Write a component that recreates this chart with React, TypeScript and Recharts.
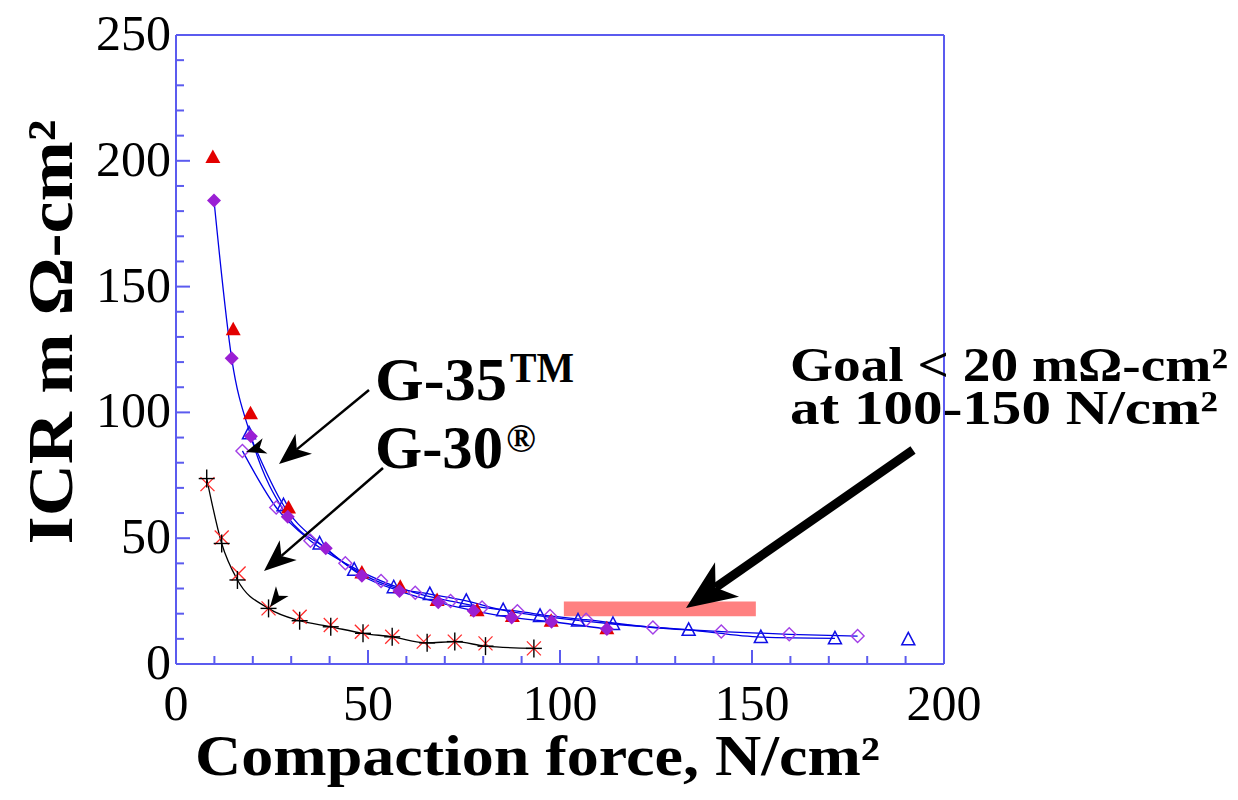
import React from 'react';
import {
    LineChart,
    Line,
    XAxis,
    YAxis,
    ReferenceArea,
    ReferenceLine,
} from 'recharts';

// G-35 (filled diamonds, blue fit line)
const filledDiamondX = [9.9, 14.5, 19.5, 29.1, 39.0, 48.4, 58.2, 68.3, 77.5, 87.4, 97.8, 112.2];
const filledDiamondY = [184.2, 121.5, 90.5, 58.5, 46.0, 35.1, 29.0, 24.5, 21.2, 18.5, 16.8, 13.9];

// G-35 repeat (red filled triangles, no line)
const redTriX = [9.6, 14.9, 19.4, 29.3, 48.4, 58.4, 68.0, 78.4, 87.6, 97.7, 112.2];
const redTriY = [201.5, 133.0, 99.7, 62.2, 36.4, 30.7, 25.4, 21.4, 19.1, 17.2, 14.2];

// open triangles (blue line)
const openTriX = [19.0, 28.0, 37.4, 46.4, 56.7, 66.1, 75.6, 85.2, 94.8, 104.7, 113.8, 133.5, 152.3, 171.6];
const openTriY = [91.7, 63.1, 47.9, 37.5, 30.5, 27.8, 25.1, 21.4, 19.1, 17.3, 15.9, 13.6, 10.7, 10.2];
const openTriExtraX = [190.7];
const openTriExtraY = [9.8];

// open diamonds (blue line)
const openDiaX = [17.3, 26.1, 35.0, 44.1, 53.4, 62.3, 71.5, 79.7, 88.9, 97.4, 106.8, 124.2, 142.0, 159.7, 177.5];
const openDiaY = [84.7, 62.2, 49.0, 40.0, 33.0, 28.3, 25.0, 22.5, 21.0, 19.1, 17.6, 14.5, 12.9, 11.8, 11.1];

// G-30 (black plus, black line) and red crosses
const plusX = [8.0, 11.9, 16.0, 24.1, 32.2, 40.3, 48.7, 56.3, 65.4, 72.6, 80.6, 93.2];
const plusY = [73.7, 47.9, 33.4, 22.1, 17.2, 14.8, 12.2, 10.8, 8.4, 8.9, 7.1, 6.2];
const crossX = [8.2, 11.9, 16.3, 24.1, 32.2, 40.3, 48.4, 56.3, 64.5, 72.6, 80.6, 93.2];
const crossY = [71.5, 50.3, 36.0, 22.1, 18.8, 15.5, 12.8, 10.8, 8.9, 8.9, 8.2, 6.2];

// goal band
const goalX = [101, 151];
const goalY = [19, 24.8];

const xTicks = [0, 10, 20, 30, 40, 50, 60, 70, 80, 90, 100, 110, 120, 130, 140, 150, 160, 170, 180, 190, 200];
const yTicks = [0, 10, 20, 30, 40, 50, 60, 70, 80, 90, 100, 110, 120, 130, 140, 150, 160, 170, 180, 190, 200, 210, 220, 230, 240, 250];

const AXIS_BLUE = '#5b5bef';
const LINE_BLUE = '#0000e6';
const FONT = '"Liberation Serif", "Times New Roman", serif';

const zip = (xs: number[], ys: number[]) => xs.map((x, i) => ({ x, y: ys[i] }));

const YTick = (props: any) => {
    const { x, y, payload } = props;
    const v = payload.value;
    const major = v % 50 === 0;
    return (
        <g>
            <line x1={x} y1={y} x2={x + (major ? 14 : 8)} y2={y} stroke={AXIS_BLUE} strokeWidth={2} />
            {major && (
                <text x={x - 5} y={y + 15} textAnchor="end" fontSize={50} fontFamily={FONT} fill="#000">
                    {v}
                </text>
            )}
        </g>
    );
};

const XTick = (props: any) => {
    const { x, y, payload } = props;
    const v = payload.value;
    const major = v % 50 === 0;
    return (
        <g>
            <line x1={x} y1={y} x2={x} y2={y - (major ? 14 : 8)} stroke={AXIS_BLUE} strokeWidth={2} />
            {major && (
                <text x={x} y={y + 56} textAnchor="middle" fontSize={50} fontFamily={FONT} fill="#000">
                    {v}
                </text>
            )}
        </g>
    );
};

// marker shapes
const diamondFilled = (p: any) => {
    const { cx, cy, index } = p;
    const r = 7;
    return <polygon key={`fd${index}`} points={`${cx},${cy - r} ${cx + r},${cy} ${cx},${cy + r} ${cx - r},${cy}`} fill="#9a1fd4" />;
};
const diamondOpen = (p: any) => {
    const { cx, cy, index } = p;
    const r = 6.5;
    return <polygon key={`od${index}`} points={`${cx},${cy - r} ${cx + r},${cy} ${cx},${cy + r} ${cx - r},${cy}`} fill="none" stroke="#a23fe6" strokeWidth={1.4} />;
};
const triFilled = (p: any) => {
    const { cx, cy, index } = p;
    return <polygon key={`ft${index}`} points={`${cx},${cy - 7.5} ${cx + 7.5},${cy + 6} ${cx - 7.5},${cy + 6}`} fill="#e30000" />;
};
const triOpen = (p: any) => {
    const { cx, cy, index } = p;
    return <polygon key={`ot${index}`} points={`${cx},${cy - 7} ${cx + 6.5},${cy + 5.5} ${cx - 6.5},${cy + 5.5}`} fill="none" stroke="#1010e6" strokeWidth={1.5} />;
};
const plusMark = (p: any) => {
    const { cx, cy, index } = p;
    return (
        <g key={`pl${index}`}>
            <line x1={cx - 8} y1={cy} x2={cx + 8} y2={cy} stroke="#000" strokeWidth={1.4} />
            <line x1={cx} y1={cy - 9} x2={cx} y2={cy + 9} stroke="#000" strokeWidth={1.4} />
        </g>
    );
};
const crossMark = (p: any) => {
    const { cx, cy, index } = p;
    return (
        <g key={`cr${index}`}>
            <line x1={cx - 7} y1={cy - 7} x2={cx + 7} y2={cy + 7} stroke="#ff2a2a" strokeWidth={1.3} />
            <line x1={cx - 7} y1={cy + 7} x2={cx + 7} y2={cy - 7} stroke="#ff2a2a" strokeWidth={1.3} />
        </g>
    );
};

// arrow helper for the annotation overlay
function Arrow({ x1, y1, x2, y2, w, len, head, showLine = true }: any) {
    const dx = x2 - x1;
    const dy = y2 - y1;
    const d = Math.hypot(dx, dy);
    const ux = dx / d;
    const uy = dy / d;
    const px = -uy;
    const py = ux;
    const bx = x2 - ux * len;
    const by = y2 - uy * len;
    const nx = x2 - ux * len * 0.72;
    const ny = y2 - uy * len * 0.72;
    const pts = `${x2},${y2} ${bx + px * head / 2},${by + py * head / 2} ${nx},${ny} ${bx - px * head / 2},${by - py * head / 2}`;
    return (
        <g>
            {showLine && <line x1={x1} y1={y1} x2={nx} y2={ny} stroke="#000" strokeWidth={w} />}
            <polygon points={pts} fill="#000" />
        </g>
    );
}

export default function App() {
    return (
        <div style={{ position: 'absolute', left: 0, top: 0, width: 1238, height: 800, background: '#fff' }}>
            <LineChart width={1238} height={800} margin={{ top: 35, right: 294, bottom: 36, left: 0 }}>
                <XAxis
                    type="number"
                    dataKey="x"
                    domain={[0, 200]}
                    ticks={xTicks}
                    interval={0}
                    height={100}
                    tickSize={0}
                    tickMargin={0}
                    tickLine={false}
                    axisLine={{ stroke: AXIS_BLUE, strokeWidth: 2 }}
                    tick={<XTick />}
                    allowDataOverflow
                />
                <YAxis
                    type="number"
                    dataKey="y"
                    domain={[0, 250]}
                    ticks={yTicks}
                    interval={0}
                    width={176}
                    tickSize={0}
                    tickMargin={0}
                    tickLine={false}
                    axisLine={{ stroke: AXIS_BLUE, strokeWidth: 2 }}
                    tick={<YTick />}
                    allowDataOverflow
                />
                <ReferenceLine y={250} stroke={AXIS_BLUE} strokeWidth={2} />
                <ReferenceLine x={200} stroke={AXIS_BLUE} strokeWidth={2} />
                <ReferenceArea x1={goalX[0]} x2={goalX[1]} y1={goalY[0]} y2={goalY[1]} fill="#ff8080" fillOpacity={1} stroke="none" />

                <Line data={zip(openDiaX, openDiaY)} dataKey="y" type="monotone" stroke={LINE_BLUE} strokeWidth={1.3} dot={diamondOpen} activeDot={false} isAnimationActive={false} />
                <Line data={zip(openTriX, openTriY)} dataKey="y" type="monotone" stroke={LINE_BLUE} strokeWidth={1.3} dot={triOpen} activeDot={false} isAnimationActive={false} />
                <Line data={zip(openTriExtraX, openTriExtraY)} dataKey="y" stroke="none" dot={triOpen} activeDot={false} isAnimationActive={false} />
                <Line data={zip(redTriX, redTriY)} dataKey="y" stroke="none" dot={triFilled} activeDot={false} isAnimationActive={false} />
                <Line data={zip(filledDiamondX, filledDiamondY)} dataKey="y" type="monotone" stroke={LINE_BLUE} strokeWidth={1.3} dot={diamondFilled} activeDot={false} isAnimationActive={false} />
                <Line data={zip(crossX, crossY)} dataKey="y" stroke="none" dot={crossMark} activeDot={false} isAnimationActive={false} />
                <Line data={zip(plusX, plusY)} dataKey="y" type="monotone" stroke="#000" strokeWidth={1.3} dot={plusMark} activeDot={false} isAnimationActive={false} />
            </LineChart>

            <svg width={1238} height={800} style={{ position: 'absolute', left: 0, top: 0, pointerEvents: 'none' }}>
                <g fontFamily={FONT} fontWeight="bold" fill="#000">
                    <text x={195} y={775} fontSize={56} textLength={685} lengthAdjust="spacingAndGlyphs">
                        Compaction force, N/cm²
                    </text>
                    <text transform="translate(72,332) rotate(-90)" textAnchor="middle" fontSize={64} textLength={425} lengthAdjust="spacingAndGlyphs">
                        ICR m Ω-cm²
                    </text>
                    <text x={375} y={400} fontSize={62} textLength={132} lengthAdjust="spacingAndGlyphs">G-35</text>
                    <text x={510} y={382} fontSize={42} textLength={64} lengthAdjust="spacingAndGlyphs">TM</text>
                    <text x={375} y={468} fontSize={62} textLength={128} lengthAdjust="spacingAndGlyphs">G-30</text>
                    <text x={506} y={452} fontSize={40}>®</text>
                    <text x={790} y={381} fontSize={49} textLength={438} lengthAdjust="spacingAndGlyphs">
                        Goal &lt; 20 mΩ-cm²
                    </text>
                    <text x={790} y={424} fontSize={49} textLength={428} lengthAdjust="spacingAndGlyphs">
                        at 100-150 N/cm²
                    </text>
                </g>
                <Arrow x1={369} y1={390} x2={279} y2={464} w={2.5} len={32} head={26} />
                <Arrow x1={383} y1={468} x2={264} y2={571} w={2.5} len={32} head={26} />
                <Arrow x1={913} y1={450} x2={686} y2={608} w={9} len={50} head={42} />
                <Arrow x1={268} y1={445} x2={246} y2={452} w={2} len={20} head={16} showLine={false} />
                <Arrow x1={284} y1={589} x2={270} y2={607} w={2} len={20} head={16} showLine={false} />
            </svg>
        </div>
    );
}
